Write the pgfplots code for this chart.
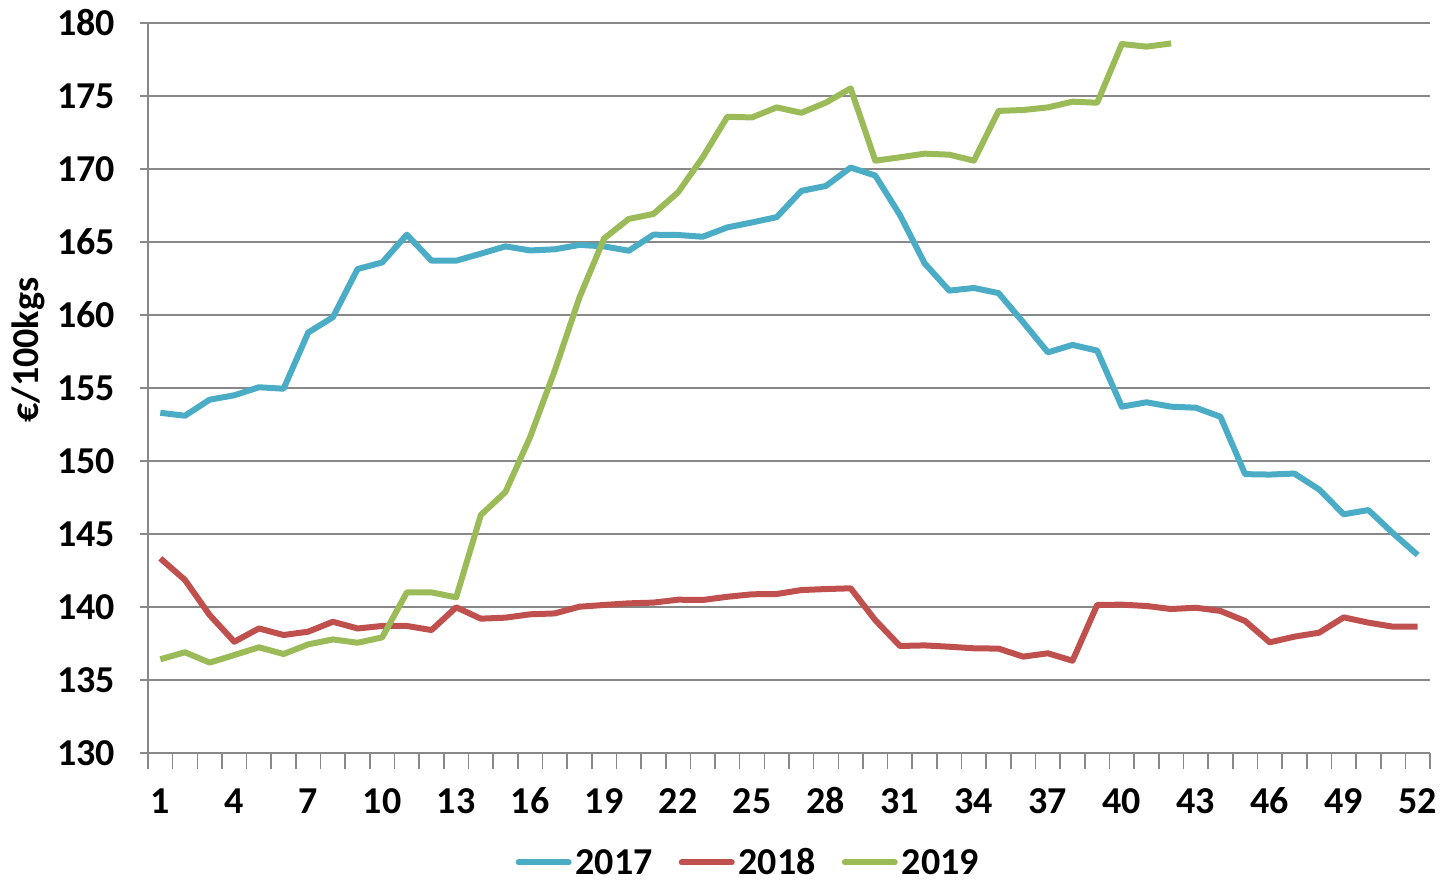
\documentclass[border=0pt]{standalone}
\usepackage{pgfplots}
\pgfplotsset{compat=1.18}
\usepackage{fontspec}
\setmainfont{Carlito}
\definecolor{c17}{HTML}{4BACC6}
\definecolor{c18}{HTML}{C0504D}
\definecolor{c19}{HTML}{9BBB59}
\definecolor{gridgray}{HTML}{888888}
\begin{document}
\begin{tikzpicture}
\path[use as bounding box] (-74pt,-64.5pt) rectangle (653pt,376.5pt);
\begin{axis}[
  scale only axis,
  width=641pt, height=365pt,
  xmin=0.5, xmax=52.5, ymin=130, ymax=180,
  xtick={1,4,...,52},
  minor xtick={0.5,1.5,...,52.5},
  ytick={130,135,...,180},
  axis x line*=bottom, axis y line*=left,
  axis line style={-, draw=gridgray, line width=1pt},
  ymajorgrids,
  major grid style={draw=gridgray, line width=1pt},
  tick align=outside,
  major x tick style={draw=none},
  minor x tick style={draw=gridgray, line width=0.8pt},
  major y tick style={draw=gridgray, line width=0.8pt},
  minor tick length=8pt,
  major tick length=4pt,
  /pgf/number format/assume math mode=true,
  tick label style={font=\bfseries\fontsize{19}{21}\selectfont},
  xticklabel style={yshift=-10pt, text height=12.5pt, text depth=0pt},
  yticklabel style={xshift=-9pt},
  every axis y label/.style={at={(axis description cs:-0.093,0.552)}, rotate=90, anchor=center, font=\bfseries\fontsize{19}{21}\selectfont},
  ylabel={€/100kgs},
  legend style={at={(axis description cs:0.469,-0.150)}, anchor=center, draw=none, fill=none,
    legend columns=3, font=\bfseries\fontsize{19}{21}\selectfont,
    /tikz/every even column/.append style={column sep=11pt},
    nodes={text height=12.5pt, text depth=0pt},
    inner sep=0pt, cells={anchor=west}},
  legend image code/.code={\draw[#1, line cap=round] (1.5pt,0pt) -- (26.5pt,0pt);},
  every axis plot/.append style={line width=3pt, line join=round, mark=none},
]
\addplot[c17] coordinates {
(1,153.3)(2,153.1)(3,154.2)(4,154.5)(5,155.05)(6,154.95)(7,158.8)(8,159.85)(9,163.15)(10,163.6)
(11,165.5)(12,163.72)(13,163.72)(14,164.2)(15,164.7)(16,164.42)(17,164.5)(18,164.8)(19,164.7)(20,164.4)
(21,165.5)(22,165.48)(23,165.36)(24,166.0)(25,166.34)(26,166.7)(27,168.5)(28,168.84)(29,170.1)(30,169.55)
(31,166.85)(32,163.54)(33,161.67)(34,161.85)(35,161.5)(36,159.5)(37,157.44)(38,157.95)(39,157.56)(40,153.72)
(41,154.02)(42,153.72)(43,153.65)(44,153.03)(45,149.1)(46,149.07)(47,149.14)(48,148.05)(49,146.35)(50,146.64)
(51,145.05)(52,143.56)};
\addlegendentry{2017}
\addplot[c18] coordinates {
(1,143.33)(2,141.85)(3,139.45)(4,137.62)(5,138.53)(6,138.08)(7,138.31)(8,138.99)(9,138.53)(10,138.7)
(11,138.7)(12,138.42)(13,139.98)(14,139.2)(15,139.27)(16,139.5)(17,139.56)(18,140.02)(19,140.14)(20,140.25)
(21,140.3)(22,140.5)(23,140.48)(24,140.7)(25,140.87)(26,140.89)(27,141.16)(28,141.23)(29,141.28)(30,139.1)
(31,137.33)(32,137.37)(33,137.28)(34,137.17)(35,137.15)(36,136.6)(37,136.83)(38,136.32)(39,140.14)(40,140.16)
(41,140.07)(42,139.86)(43,139.95)(44,139.73)(45,139.04)(46,137.58)(47,137.97)(48,138.24)(49,139.29)(50,138.93)
(51,138.65)(52,138.65)};
\addlegendentry{2018}
\addplot[c19] coordinates {
(1,136.42)(2,136.9)(3,136.19)(4,136.71)(5,137.24)(6,136.78)(7,137.44)(8,137.78)(9,137.55)(10,137.92)
(11,141.0)(12,141.0)(13,140.66)(14,146.3)(15,147.88)(16,151.64)(17,156.2)(18,161.2)(19,165.24)(20,166.58)
(21,166.92)(22,168.4)(23,170.8)(24,173.58)(25,173.53)(26,174.22)(27,173.85)(28,174.55)(29,175.52)(30,170.57)
(31,170.8)(32,171.05)(33,170.98)(34,170.57)(35,173.98)(36,174.04)(37,174.22)(38,174.61)(39,174.54)(40,178.56)
(41,178.38)(42,178.6)};
\addlegendentry{2019}
\end{axis}
\end{tikzpicture}
\end{document}
